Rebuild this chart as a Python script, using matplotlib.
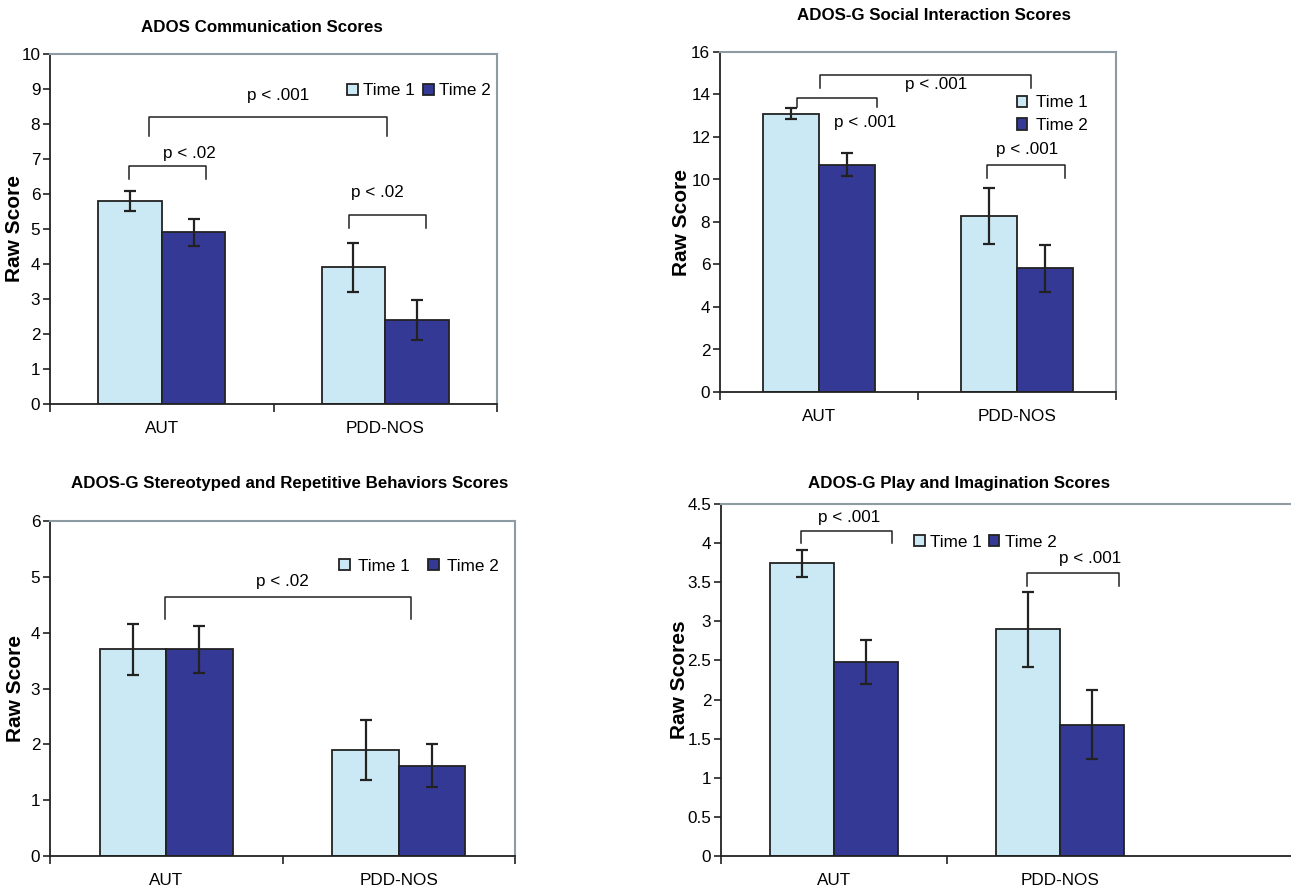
import matplotlib
matplotlib.use('Agg')
import matplotlib.pyplot as plt

plt.rcParams['font.family'] = ['Liberation Sans', 'DejaVu Sans']

groups = ['AUT', 'PDD-NOS']

comm_t1 = [5.8, 3.9]
comm_t1_err = [0.28, 0.69]
comm_t2 = [4.9, 2.4]
comm_t2_err = [0.38, 0.58]

social_t1 = [13.1, 8.3]
social_t1_err = [0.27, 1.32]
social_t2 = [10.7, 5.82]
social_t2_err = [0.55, 1.1]

stereo_t1 = [3.7, 1.9]
stereo_t1_err = [0.46, 0.53]
stereo_t2 = [3.7, 1.62]
stereo_t2_err = [0.42, 0.38]

play_t1 = [3.74, 2.9]
play_t1_err = [0.17, 0.48]
play_t2 = [2.48, 1.68]
play_t2_err = [0.28, 0.44]

LIGHT = '#cbe9f4'
DARK = '#333995'
INK = '#222222'
GRAY = '#8d9ba5'
W, H = 1291, 888
BW = 0.285
FS = 12.3


def px_axes(fig, left, right, top, bottom):
    return fig.add_axes([left / W, 1 - bottom / H, (right - left) / W, (bottom - top) / H])


def bracket(ax, x0, x1, y, ylow, label, tx, ty):
    ax.plot([x0, x0, x1, x1], [ylow, y, y, ylow], color=INK, lw=1.1, clip_on=False)
    ax.text(tx, ty, label, ha='center', va='center', fontsize=FS)


def panel(ax, t1, t1e, t2, t2e, ymax, ystep, title, ylabel, tpad, tx, labx,
          xmax=1.5, ticklabels=None):
    x = range(len(groups))
    eb = dict(ecolor=INK, elinewidth=1.6, capsize=4, capthick=1.6)
    ax.bar([i - BW / 2 for i in x], t1, BW, yerr=t1e, color=LIGHT,
           edgecolor=INK, linewidth=1.3, error_kw=eb, label='Time 1', zorder=2)
    ax.bar([i + BW / 2 for i in x], t2, BW, yerr=t2e, color=DARK,
           edgecolor=INK, linewidth=1.3, error_kw=eb, label='Time 2', zorder=2)
    ax.set_xlim(-0.5, xmax)
    ax.set_ylim(0, ymax)
    yt = []
    v = 0
    while v <= ymax + 1e-9:
        yt.append(round(v, 2))
        v += ystep
    ax.set_yticks(yt)
    if ticklabels:
        ax.set_yticklabels(ticklabels)
    ax.set_xticks([-0.5, 0.5, 1.5])
    ax.set_xticklabels([])
    ax.set_xticks([0, 1], minor=True)
    ax.set_xticklabels(groups, minor=True)
    ax.tick_params(axis='x', which='major', length=6, width=1.2, color=INK, direction='out')
    ax.tick_params(axis='x', which='minor', length=0, pad=12, labelsize=FS)
    ax.tick_params(axis='y', length=5, width=1.2, color=INK, direction='out', pad=2, labelsize=FS)
    for s in ['left', 'bottom']:
        ax.spines[s].set_color(INK)
        ax.spines[s].set_linewidth(1.3)
    for s in ['top', 'right']:
        ax.spines[s].set_color(GRAY)
        ax.spines[s].set_linewidth(1.5)
    ax.set_ylabel(ylabel, fontsize=15, fontweight='bold')
    ax.yaxis.set_label_coords(labx, 0.5)
    ax.set_title(title, fontsize=12.2, fontweight='bold', pad=tpad, x=tx)


fig = plt.figure(figsize=(W / 100, H / 100), dpi=100)

# ADOS communication
ax1 = px_axes(fig, 50, 497, 54, 404)
panel(ax1, comm_t1, comm_t1_err, comm_t2, comm_t2_err, 10, 1,
      'ADOS Communication Scores', 'Raw Score', 16, 0.475, -0.058)
ax1.legend(loc='center left', bbox_to_anchor=(0.664, 0.895), ncol=2, frameon=False,
           fontsize=FS, handlelength=0.63, handleheight=0.63, handletextpad=0.3,
           columnspacing=0.5, borderpad=0, borderaxespad=0)
bracket(ax1, -0.057, 1.008, 8.21, 7.65, 'p < .001', 0.52, 8.82)
bracket(ax1, -0.147, 0.197, 6.79, 6.43, 'p < .02', 0.122, 7.15)
bracket(ax1, 0.838, 1.182, 5.39, 5.03, 'p < .02', 0.963, 6.05)

# ADOS-G social interaction
ax2 = px_axes(fig, 720, 1116, 52, 392)
panel(ax2, social_t1, social_t1_err, social_t2, social_t2_err, 16, 2,
      'ADOS-G Social Interaction Scores', 'Raw Score', 23, 0.54, -0.073)
ax2.legend(loc='center left', bbox_to_anchor=(0.749, 0.817), ncol=1, frameon=False,
           fontsize=FS, handlelength=0.63, handleheight=0.63, handletextpad=0.5,
           labelspacing=0.45, borderpad=0, borderaxespad=0)
bracket(ax2, 0.005, 1.071, 14.94, 14.31, 'p < .001', 0.594, 14.47)
bracket(ax2, -0.111, 0.291, 13.82, 13.41, 'p < .001', 0.232, 12.66)
bracket(ax2, 0.847, 1.244, 10.66, 10.06, 'p < .001', 1.049, 11.43)

# ADOS-G stereotyped and repetitive behaviours
ax3 = px_axes(fig, 50, 515, 521, 856)
panel(ax3, stereo_t1, stereo_t1_err, stereo_t2, stereo_t2_err, 6, 1,
      'ADOS-G Stereotyped and Repetitive Behaviors Scores', 'Raw Score', 24, 0.515, -0.054)
ax3.legend(loc='center left', bbox_to_anchor=(0.622, 0.865), ncol=2, frameon=False,
           fontsize=FS, handlelength=0.63, handleheight=0.63, handletextpad=0.45,
           columnspacing=1.1, borderpad=0, borderaxespad=0)
bracket(ax3, -0.004, 1.052, 4.63, 4.24, 'p < .02', 0.498, 4.91)

# ADOS-G play and imagination
ax4 = px_axes(fig, 721, 1291, 504, 856)
panel(ax4, play_t1, play_t1_err, play_t2, play_t2_err, 4.5, 0.5,
      'ADOS-G Play and Imagination Scores', 'Raw Scores', 11.5, 0.417, -0.057,
      xmax=2.022,
      ticklabels=['0', '0.5', '1', '1.5', '2', '2.5', '3', '3.5', '4', '4.5'])
ax4.set_xticks([-0.5, 0.5])
ax4.set_xticklabels([])
ax4.spines['right'].set_visible(False)
ax4.legend(loc='center left', bbox_to_anchor=(0.339, 0.891), ncol=2, frameon=False,
           fontsize=FS, handlelength=0.63, handleheight=0.63, handletextpad=0.3,
           columnspacing=0.4, borderpad=0, borderaxespad=0)
bracket(ax4, -0.147, 0.257, 4.16, 4.0, 'p < .001', 0.066, 4.33)
bracket(ax4, 0.854, 1.26, 3.62, 3.45, 'p < .001', 1.133, 3.80)

fig.savefig('out.png', dpi=100)
